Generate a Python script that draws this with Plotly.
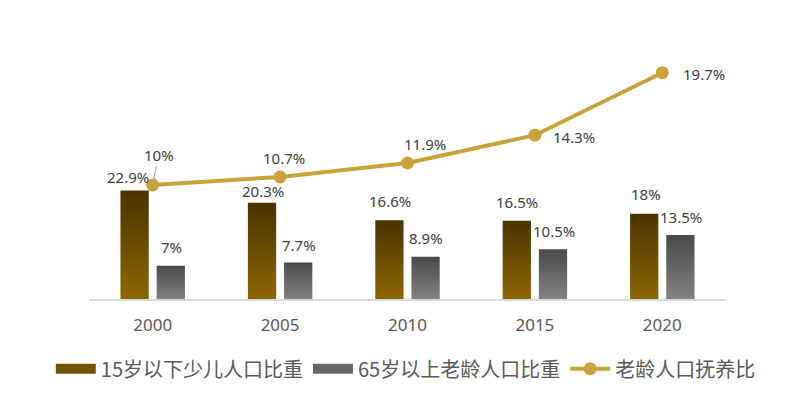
import plotly.graph_objects as go

# ---------------- data ----------------
years = ["2000", "2005", "2010", "2015", "2020"]
child_share = [22.9, 20.3, 16.6, 16.5, 18.0]        # 15岁以下少儿人口比重 (%)
elderly_share = [7.0, 7.7, 8.9, 10.5, 13.5]         # 65岁以上老龄人口比重 (%)
old_dependency = [10.0, 10.7, 11.9, 14.3, 19.7]     # 老龄人口抚养比 (%)
series_names = ["15岁以下少儿人口比重", "65岁以上老龄人口比重", "老龄人口抚养比"]

# ---------------- style ----------------
BAR_W = 0.222
BAR_OFF = [-0.142, 0.142]
GRAD = [
    [[0, "#8C6600"], [1, "#4A3400"]],   # brown/gold bars: bottom -> top
    [[0, "#828282"], [1, "#4A4A4A"]],   # grey bars
]
LEGEND_SWATCH = ["#715200", "#676767"]
LINE_COLOR = "#C9A23A"
LABEL_COLOR = "#404040"
TICK_COLOR = "#595959"
NUM_FONT = "Noto Sans, Noto Sans CJK SC, sans-serif"
CJK_FONT = "Noto Sans CJK SC, Noto Sans, sans-serif"
LABEL_SIZE = 15

# label placement offsets (pixels)
child_lbl_dx = [-24.6, -17.5, -17.7, -17.5, -16.5]
child_lbl_dy = [13.5, 11.5, 19, 19, 19.5]
elder_lbl_dx = [18.4, 19.3, 18.6, 18.8, 18.3]
elder_lbl_dy = [18.5, 17.5, 19, 18.2, 18.3]
line_lbl_dx = [6, 4, 17, 39, 42]
line_lbl_dy = [30, 19, 19, -1.7, -1.3]

fig = go.Figure()

x_idx = list(range(len(years)))

# gradient bars (filled polygons on the library's numeric x / y scales)
for s, vals in enumerate([child_share, elderly_share]):
    for i, v in zip(x_idx, vals):
        x0 = i + BAR_OFF[s] - BAR_W / 2
        x1 = i + BAR_OFF[s] + BAR_W / 2
        fig.add_trace(go.Scatter(
            x=[x0, x0, x1, x1, x0], y=[0, v, v, 0, 0],
            fill="toself", mode="none",
            fillgradient=dict(type="vertical", colorscale=GRAD[s]),
            showlegend=False, hoverinfo="skip", yaxis="y",
        ))

# legend helpers for bar series
for s in range(2):
    fig.add_trace(go.Scatter(
        x=[None], y=[None], mode="lines", name=series_names[s],
        line=dict(color=LEGEND_SWATCH[s], width=12),
    ))

# line series on secondary axis
fig.add_trace(go.Scatter(
    x=x_idx, y=old_dependency, mode="lines+markers", name=series_names[2],
    line=dict(color=LINE_COLOR, width=4),
    marker=dict(color=LINE_COLOR, size=13),
    yaxis="y2", hoverinfo="skip",
))

annotations = []
for i, v in enumerate(child_share):
    annotations.append(dict(
        x=i, y=v, xref="x", yref="y", text=f"{v:g}%", showarrow=False,
        xshift=child_lbl_dx[i], yshift=child_lbl_dy[i],
        font=dict(family=NUM_FONT, size=LABEL_SIZE, color=LABEL_COLOR),
    ))
for i, v in enumerate(elderly_share):
    annotations.append(dict(
        x=i, y=v, xref="x", yref="y", text=f"{v:g}%", showarrow=False,
        xshift=elder_lbl_dx[i], yshift=elder_lbl_dy[i],
        font=dict(family=NUM_FONT, size=LABEL_SIZE, color=LABEL_COLOR),
    ))
for i, v in enumerate(old_dependency):
    if i == 0:
        annotations.append(dict(
            x=i, y=v, xref="x", yref="y2", text=f"{v:g}%", showarrow=True,
            ax=line_lbl_dx[i], ay=-line_lbl_dy[i], axref="pixel", ayref="pixel",
            arrowhead=0, arrowwidth=1.2, arrowcolor="#A6A6A6", standoff=4,
            font=dict(family=NUM_FONT, size=LABEL_SIZE, color=LABEL_COLOR),
        ))
    else:
        annotations.append(dict(
            x=i, y=v, xref="x", yref="y2", text=f"{v:g}%", showarrow=False,
            xshift=line_lbl_dx[i], yshift=line_lbl_dy[i],
            font=dict(family=NUM_FONT, size=LABEL_SIZE, color=LABEL_COLOR),
        ))

fig.update_layout(
    width=802, height=407,
    margin=dict(l=89, r=76, t=20, b=108),
    paper_bgcolor="white", plot_bgcolor="white",
    showlegend=True,
    legend=dict(
        orientation="h", x=-0.06, xanchor="left", y=-0.25, yanchor="middle",
        font=dict(family=CJK_FONT, size=20, color=TICK_COLOR),
        itemwidth=40, bgcolor="rgba(0,0,0,0)", traceorder="normal",
        itemclick=False, itemdoubleclick=False,
    ),
    xaxis=dict(
        range=[-0.5, 4.5], tickmode="array", tickvals=x_idx, ticktext=years,
        showline=True, linecolor="#D9D9D9", linewidth=1.5,
        showgrid=False, zeroline=False, ticks="",
        tickfont=dict(family=NUM_FONT, size=17, color=TICK_COLOR),
        ticklabelstandoff=10, fixedrange=True,
    ),
    yaxis=dict(range=[0, 58.86], visible=False, fixedrange=True),
    yaxis2=dict(range=[0.155, 24.25], overlaying="y", visible=False, fixedrange=True),
    annotations=annotations,
)

fig.write_html("out.html")
